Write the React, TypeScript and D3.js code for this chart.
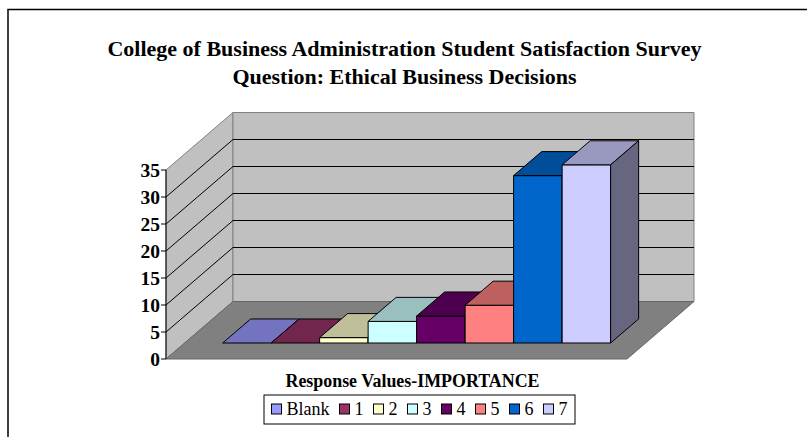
import * as d3 from 'd3';

// data
const series: string[] = ['Blank', '1', '2', '3', '4', '5', '6', '7'];
const values: number[] = [0, 0, 1, 4, 5, 7, 31, 33];
const colors: string[] = ['#9999FF', '#993366', '#FFFFCC', '#CCFFFF', '#660066', '#FF8080', '#0066CC', '#CCCCFF'];
const yTicks: number[] = [0, 5, 10, 15, 20, 25, 30, 35];
const titleLines: string[] = [
	'College of Business Administration Student Satisfaction Survey',
	'Question: Ethical Business Decisions'
];
const xTitle = 'Response Values-IMPORTANCE';

const W = 807;
const H = 437;
const serif = '"Liberation Serif", "Times New Roman", serif';

// 3d box
const left = 166;
const right = 627;
const floorY = 359;
const depthX = 67;
const depthY = -57.5;
const barFront = 0.278;
const barDepth = 0.418;

function shade(c: string, k: number) {
	const r = d3.rgb(c);
	return d3.rgb(r.r * k, r.g * k, r.b * k).formatHex();
}

function measure(text: string, font: string) {
	const ctx = document.createElement('canvas').getContext('2d');
	if (!ctx) return text.length * 9;
	ctx.font = font;
	return ctx.measureText(text).width;
}

function App() {
	const yMax = d3.max(yTicks) as number;
	const h = d3.scaleLinear().domain([0, yMax]).range([0, 189]);
	const yFront = (v: number) => floorY - h(v);
	const yBack = (v: number) => floorY + depthY - h(v);
	const x = d3.scaleBand<string>().domain(series).range([204, 592]).padding(0);
	const bw = x.bandwidth();
	const bdx = barDepth * depthX;
	const bdy = barDepth * depthY;
	const pts = (p: number[][]) => p.map((d) => d.join(',')).join(' ');

	const bx0 = left + depthX;
	const bx1 = right + depthX;

	// legend layout
	const legendFont = `18px ${serif}`;
	let lx = 271.5;
	const legendItems = series.map((s, i) => {
		const item = { s, c: colors[i], x: lx };
		lx += 15 + measure(s, legendFont) + 10;
		return item;
	});

	return (
		<svg width={W} height={H} style={{ position: 'absolute', left: 0, top: 0, display: 'block' }}>
			<rect width={W} height={H} fill='#fff' />
			<path d={`M8,${H + 5} V9.5 H${W + 5}`} fill='none' stroke='#000' strokeWidth={1.5} />

			{titleLines.map((t, i) => (
				<text
					key={t}
					x={404.5}
					y={56 + i * 28}
					textAnchor='middle'
					fontFamily={serif}
					fontWeight='bold'
					fontSize={22}
				>
					{t}
				</text>
			))}

			{/* side wall */}
			<polygon
				points={pts([
					[left, yFront(0)],
					[bx0, yBack(0)],
					[bx0, yBack(yMax)],
					[left, yFront(yMax)]
				])}
				fill='#C0C0C0'
				stroke='#808080'
			/>
			{/* back wall */}
			<polygon
				points={pts([
					[bx0, yBack(0)],
					[bx1, yBack(0)],
					[bx1, yBack(yMax)],
					[bx0, yBack(yMax)]
				])}
				fill='#C0C0C0'
				stroke='#808080'
			/>
			{yTicks
				.filter((v) => v > 0 && v < yMax)
				.map((v) => (
					<g key={v}>
						<line x1={left} y1={yFront(v)} x2={bx0} y2={yBack(v)} stroke='#000' />
						<line x1={bx0} y1={yBack(v)} x2={bx1} y2={yBack(v)} stroke='#000' />
					</g>
				))}
			{/* floor */}
			<polygon
				points={pts([
					[left, yFront(0)],
					[right, yFront(0)],
					[bx1, yBack(0)],
					[bx0, yBack(0)]
				])}
				fill='#808080'
				stroke='#666'
			/>

			{/* bars */}
			{series.map((s, i) => {
				const fx = (x(s) as number) + barFront * depthX;
				const fy = floorY + barFront * depthY;
				const bh = h(values[i]);
				const top = fy - bh;
				return (
					<g key={s} stroke='#000' strokeWidth={1} strokeLinejoin='round'>
						{bh > 0 && <rect x={fx} y={top} width={bw} height={bh} fill={colors[i]} />}
						<polygon
							points={pts([
								[fx, top],
								[fx + bw, top],
								[fx + bw + bdx, top + bdy],
								[fx + bdx, top + bdy]
							])}
							fill={shade(colors[i], 0.75)}
						/>
						{bh > 0 && (
							<polygon
								points={pts([
									[fx + bw, top],
									[fx + bw + bdx, top + bdy],
									[fx + bw + bdx, fy + bdy],
									[fx + bw, fy]
								])}
								fill={shade(colors[i], 0.5)}
							/>
						)}
					</g>
				);
			})}

			{/* value axis */}
			<line x1={left} y1={yFront(0)} x2={left} y2={yFront(yMax)} stroke='#000' />
			{yTicks.map((v) => (
				<g key={v}>
					<line x1={left - 5} y1={yFront(v)} x2={left} y2={yFront(v)} stroke='#000' />
					<text
						x={160}
						y={yFront(v)}
						dy='0.36em'
						textAnchor='end'
						fontFamily={serif}
						fontWeight='bold'
						fontSize={19.5}
					>
						{v}
					</text>
				</g>
			))}

			<text x={412.5} y={387} textAnchor='middle' fontFamily={serif} fontWeight='bold' fontSize={17.9}>
				{xTitle}
			</text>

			{/* legend */}
			<rect x={264} y={395} width={311} height={29} fill='#fff' stroke='#000' />
			{legendItems.map((d) => (
				<g key={d.s}>
					<rect x={d.x} y={404} width={10} height={10} fill={d.c} stroke='#000' />
					<text x={d.x + 15} y={414.5} fontFamily={serif} fontSize={18}>
						{d.s}
					</text>
				</g>
			))}
		</svg>
	);
}

export default App;
